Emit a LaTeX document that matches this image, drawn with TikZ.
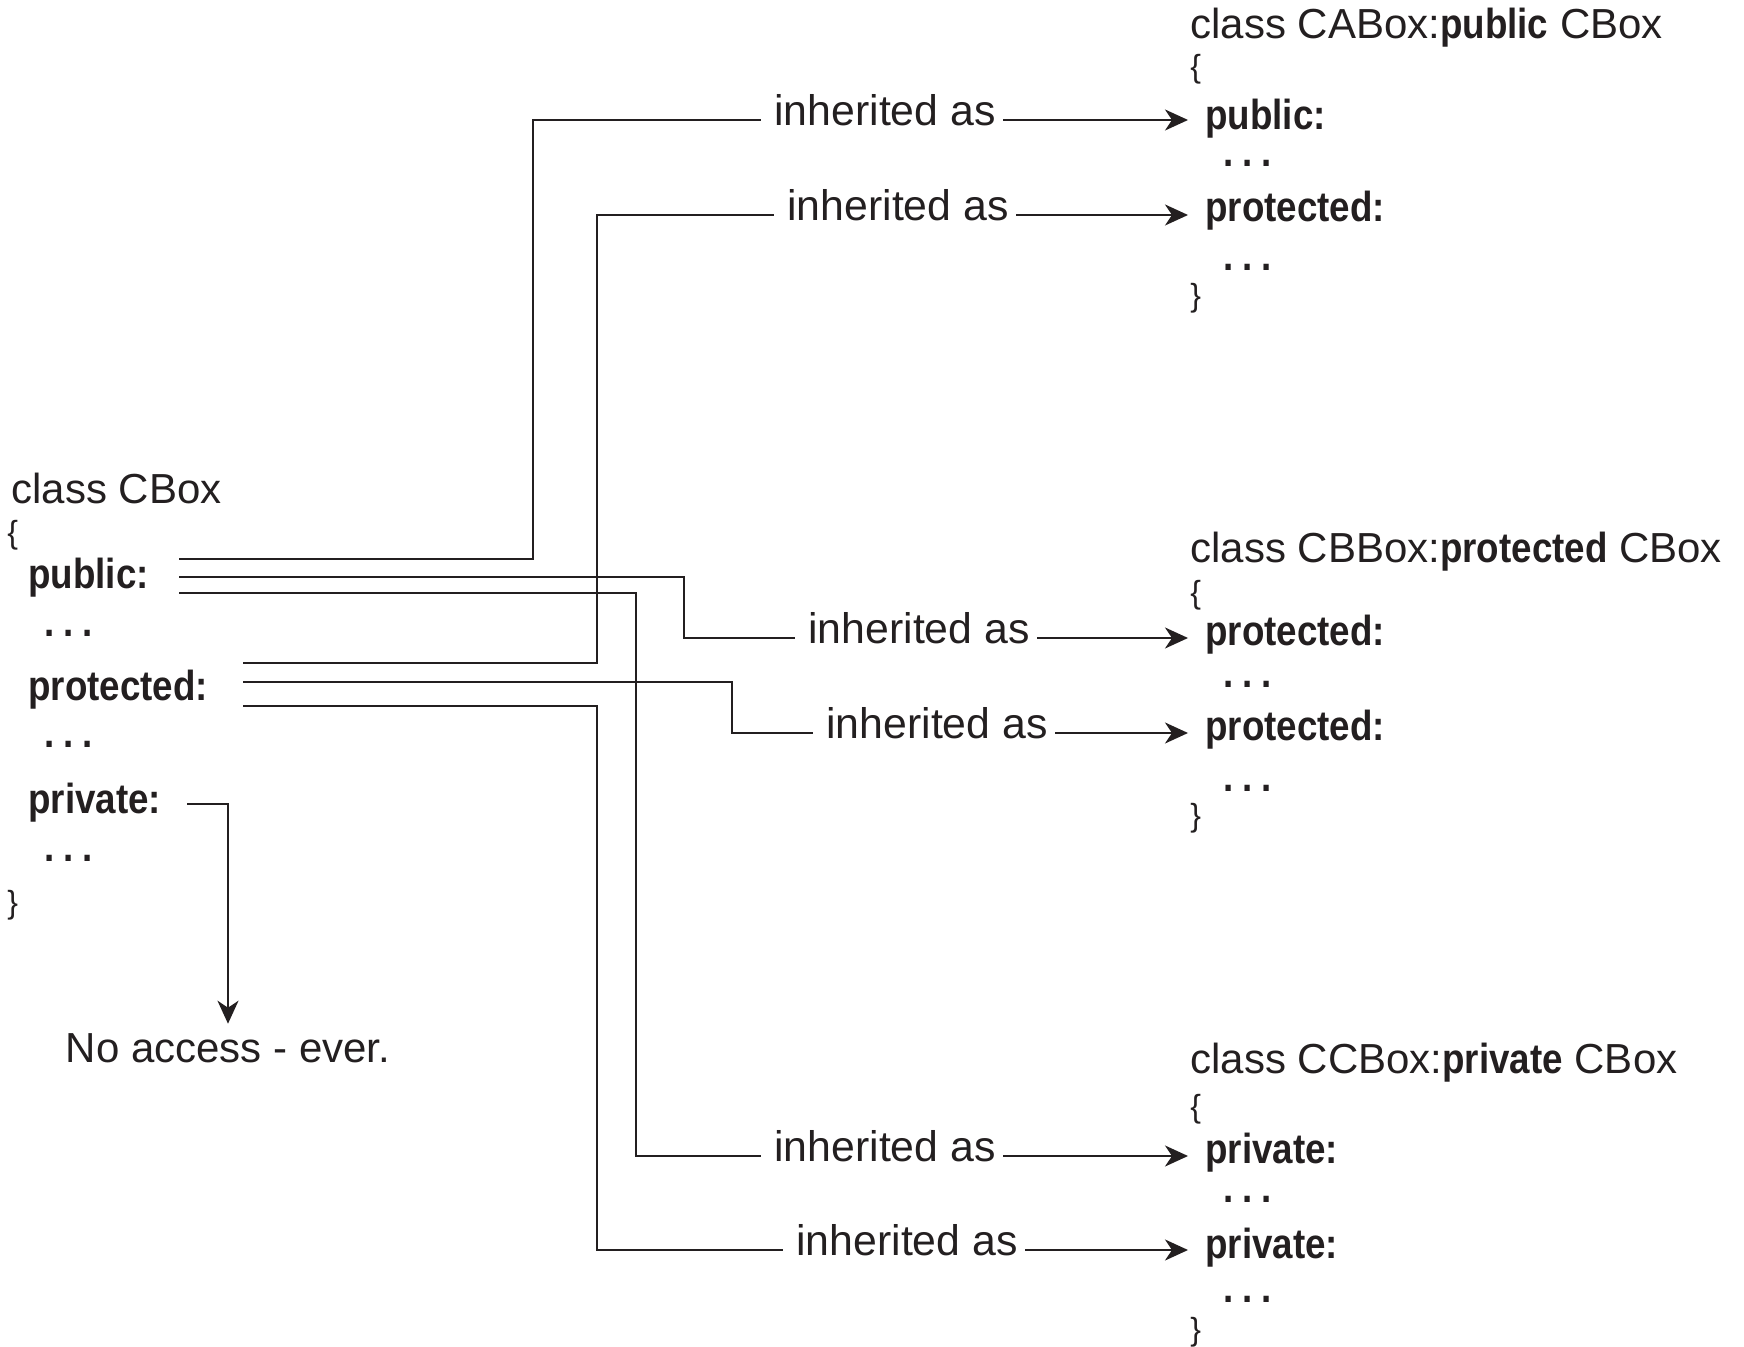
\documentclass[tikz,border=0pt]{standalone}
\usepackage{fontspec}
\setmainfont{Liberation Sans}[BoldFeatures={FakeStretch=0.875}]
\usetikzlibrary{arrows.meta}
\definecolor{ink}{RGB}{35,31,32}
\newcommand{\dts}{.\kern4.4pt.\kern4.4pt.}
\tikzset{
  txt/.style={inner sep=0pt, anchor=base west, font=\fontsize{21}{25}\selectfont, text=ink},
  kw/.style={txt, font=\fontsize{21}{25}\selectfont\bfseries},
  dotsx/.style={txt, font=\fontsize{21}{25}\selectfont\bfseries, text height=3pt, text depth=0pt},
  brace/.style={inner sep=0pt, anchor=west, font=\fontsize{16}{18}\selectfont, text=ink},
  inh/.style={inner sep=0pt, anchor=mid west, font=\fontsize{21.4}{25}\selectfont, text=ink},
  conn/.style={draw=ink, line width=1pt, shorten >=6.5pt},
  arr/.style={draw=ink, line width=1pt, -{Stealth[length=11.5pt,width=10.5pt,inset=3.5pt]}, shorten <=3.5pt, shorten >=8.5pt},
  arrd/.style={draw=ink, line width=1pt, -{Stealth[length=11.5pt,width=10.5pt,inset=3.5pt]}, shorten >=4.5pt},
}
\begin{document}
\begin{tikzpicture}[x=0.5pt,y=-0.5pt]
\path[use as bounding box] (0,0) rectangle (1744,1347);
% base class
\node[txt] (cbox) at (11,503) {class CBox};
\node[brace] (lb1) at (7,535) {\{};
\node[kw] (pub) at (28,588) {public:};
\node[dotsx] (d1) at (44,636) {\dts};
\node[kw] (prot) at (28,700) {protected:};
\node[dotsx] (d2) at (44,747) {\dts};
\node[kw] (priv) at (28,813) {private:};
\node[dotsx] (d3) at (44,861) {\dts};
\node[brace] (rb1) at (7,905) {\}};
\node[txt, anchor=base] (noacc) at (228,1062) {No access - ever.};
% CABox
\node[txt] (ca) at (1190,39) {class CABox:\textbf{public} CBox};
\node[brace] (ca1) at (1190,69) {\{};
\node[kw] (capub) at (1205,130) {public:};
\node[dotsx] (cad1) at (1223,167) {\dts};
\node[kw] (caprot) at (1205,222) {protected:};
\node[dotsx] (cad2) at (1223,271) {\dts};
\node[brace] (ca2) at (1190,298) {\}};
% CBBox
\node[txt] (cb) at (1190,562) {class CBBox:\textbf{protected} CBox};
\node[brace] (cb1) at (1190,595) {\{};
\node[kw] (cbp1) at (1205,645) {protected:};
\node[dotsx] (cbd1) at (1223,687) {\dts};
\node[kw] (cbp2) at (1205,740) {protected:};
\node[dotsx] (cbd2) at (1223,791) {\dts};
\node[brace] (cb2) at (1190,818) {\}};
% CCBox
\node[txt] (cc) at (1190,1073) {class CCBox:\textbf{private} CBox};
\node[brace] (cc1) at (1190,1109) {\{};
\node[kw] (ccp1) at (1205,1163) {private:};
\node[dotsx] (ccd1) at (1223,1202) {\dts};
\node[kw] (ccp2) at (1205,1258) {private:};
\node[dotsx] (ccd2) at (1223,1302) {\dts};
\node[brace] (cc2) at (1190,1332) {\}};
% labels
\node[inh] (ih1) at (774,120) {inherited as};
\node[inh] (ih2) at (787,215) {inherited as};
\node[inh] (ih3) at (808,638) {inherited as};
\node[inh] (ih4) at (826,733) {inherited as};
\node[inh] (ih5) at (774,1156) {inherited as};
\node[inh] (ih6) at (796,1250) {inherited as};
% line starts
\coordinate (pu1) at (179,559);
\coordinate (pu2) at (179,577);
\coordinate (pu3) at (179,593);
\coordinate (pr1) at (243,663);
\coordinate (pr2) at (243,682);
\coordinate (pr3) at (243,706);
\coordinate (pv) at (187,804);
% connectors
\draw[conn] (pu1) -| (533,120) -- (ih1.mid west);
\draw[conn] (pr1) -| (597,215) -- (ih2.mid west);
\draw[conn] (pu2) -| (684,638) -- (ih3.mid west);
\draw[conn] (pr2) -| (732,733) -- (ih4.mid west);
\draw[conn] (pu3) -| (636,1156) -- (ih5.mid west);
\draw[conn] (pr3) -| (597,1250) -- (ih6.mid west);
\draw[arr] (ih1.mid east) -- (ih1.mid east -| capub.west);
\draw[arr] (ih2.mid east) -- (ih2.mid east -| caprot.west);
\draw[arr] (ih3.mid east) -- (ih3.mid east -| cbp1.west);
\draw[arr] (ih4.mid east) -- (ih4.mid east -| cbp2.west);
\draw[arr] (ih5.mid east) -- (ih5.mid east -| ccp1.west);
\draw[arr] (ih6.mid east) -- (ih6.mid east -| ccp2.west);
\draw[arrd] (pv) -| (noacc.north);
\end{tikzpicture}
\end{document}
